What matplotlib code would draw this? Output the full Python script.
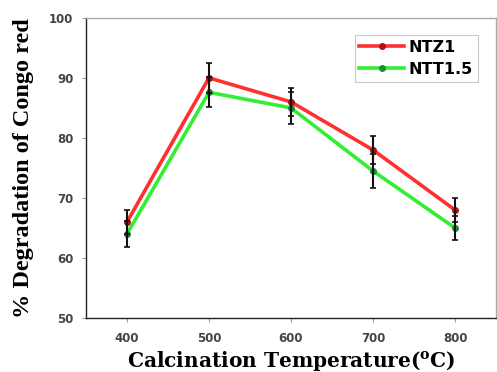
import matplotlib
matplotlib.use("Agg")
import matplotlib.pyplot as plt

# calcination temperature (C) and % degradation of Congo red
temps = [400, 500, 600, 700, 800]
ntz1 = [66.0, 90.0, 86.0, 78.0, 68.0]
ntz1_err = [2.0, 2.5, 2.4, 2.3, 2.0]
ntt15 = [64.0, 87.6, 85.0, 74.5, 65.0]
ntt15_err = [2.2, 2.5, 2.7, 2.8, 2.0]

fig = plt.figure(figsize=(4.97, 3.72), dpi=100)
ax = fig.add_axes([0.173, 0.145, 0.825, 0.807])

ax.plot(temps, ntz1, color="#ff3030", lw=2.6, marker="o", ms=4,
        mfc="#b01010", mec="#b01010", label="NTZ1", zorder=3)
ax.plot(temps, ntt15, color="#33ee33", lw=2.6, marker="o", ms=4,
        mfc="#1f8a3a", mec="#1f8a3a", label="NTT1.5", zorder=2)
ax.errorbar(temps, ntz1, yerr=ntz1_err, fmt="none", ecolor="#111111",
            elinewidth=1.5, capsize=2.5, capthick=1.2, zorder=4)
ax.errorbar(temps, ntt15, yerr=ntt15_err, fmt="none", ecolor="#111111",
            elinewidth=1.5, capsize=2.5, capthick=1.2, zorder=4)

ax.set_xlim(350, 850)
ax.set_ylim(50, 100)
ax.set_xticks(temps)
ax.set_yticks([50, 60, 70, 80, 90, 100])

for lab in ax.get_xticklabels() + ax.get_yticklabels():
    lab.set_family("DejaVu Sans")
    lab.set_fontweight("bold")
    lab.set_fontsize(8.5)
    lab.set_color("#444444")
ax.tick_params(direction="out", length=3, width=0.8, color="#999999")
ax.tick_params(axis="y", pad=6)
ax.tick_params(axis="x", pad=7)

for side in ["left", "bottom"]:
    ax.spines[side].set_color("#222222")
    ax.spines[side].set_linewidth(1.0)
for side in ["top", "right"]:
    ax.spines[side].set_color("#aaaaaa")
    ax.spines[side].set_linewidth(1.0)

ax.set_xlabel("Calcination Temperature($\\mathregular{^{o}}$C)",
              family="DejaVu Serif", fontweight="bold", fontsize=14.5,
              labelpad=3)
ax.set_ylabel("% Degradation of Congo red", family="Liberation Serif",
              fontweight="bold", fontsize=17.5, labelpad=11)

leg = ax.legend(loc="upper right", bbox_to_anchor=(0.956, 0.943),
                prop={"family": "DejaVu Sans", "weight": "bold", "size": 11.5},
                frameon=True, fancybox=False, handlelength=2.8,
                borderpad=0.3, labelspacing=0.45, handletextpad=0.3,
                borderaxespad=0.0)
leg.get_frame().set_edgecolor("#bbbbbb")
leg.get_frame().set_linewidth(0.8)

fig.savefig("out.png", dpi=100)
